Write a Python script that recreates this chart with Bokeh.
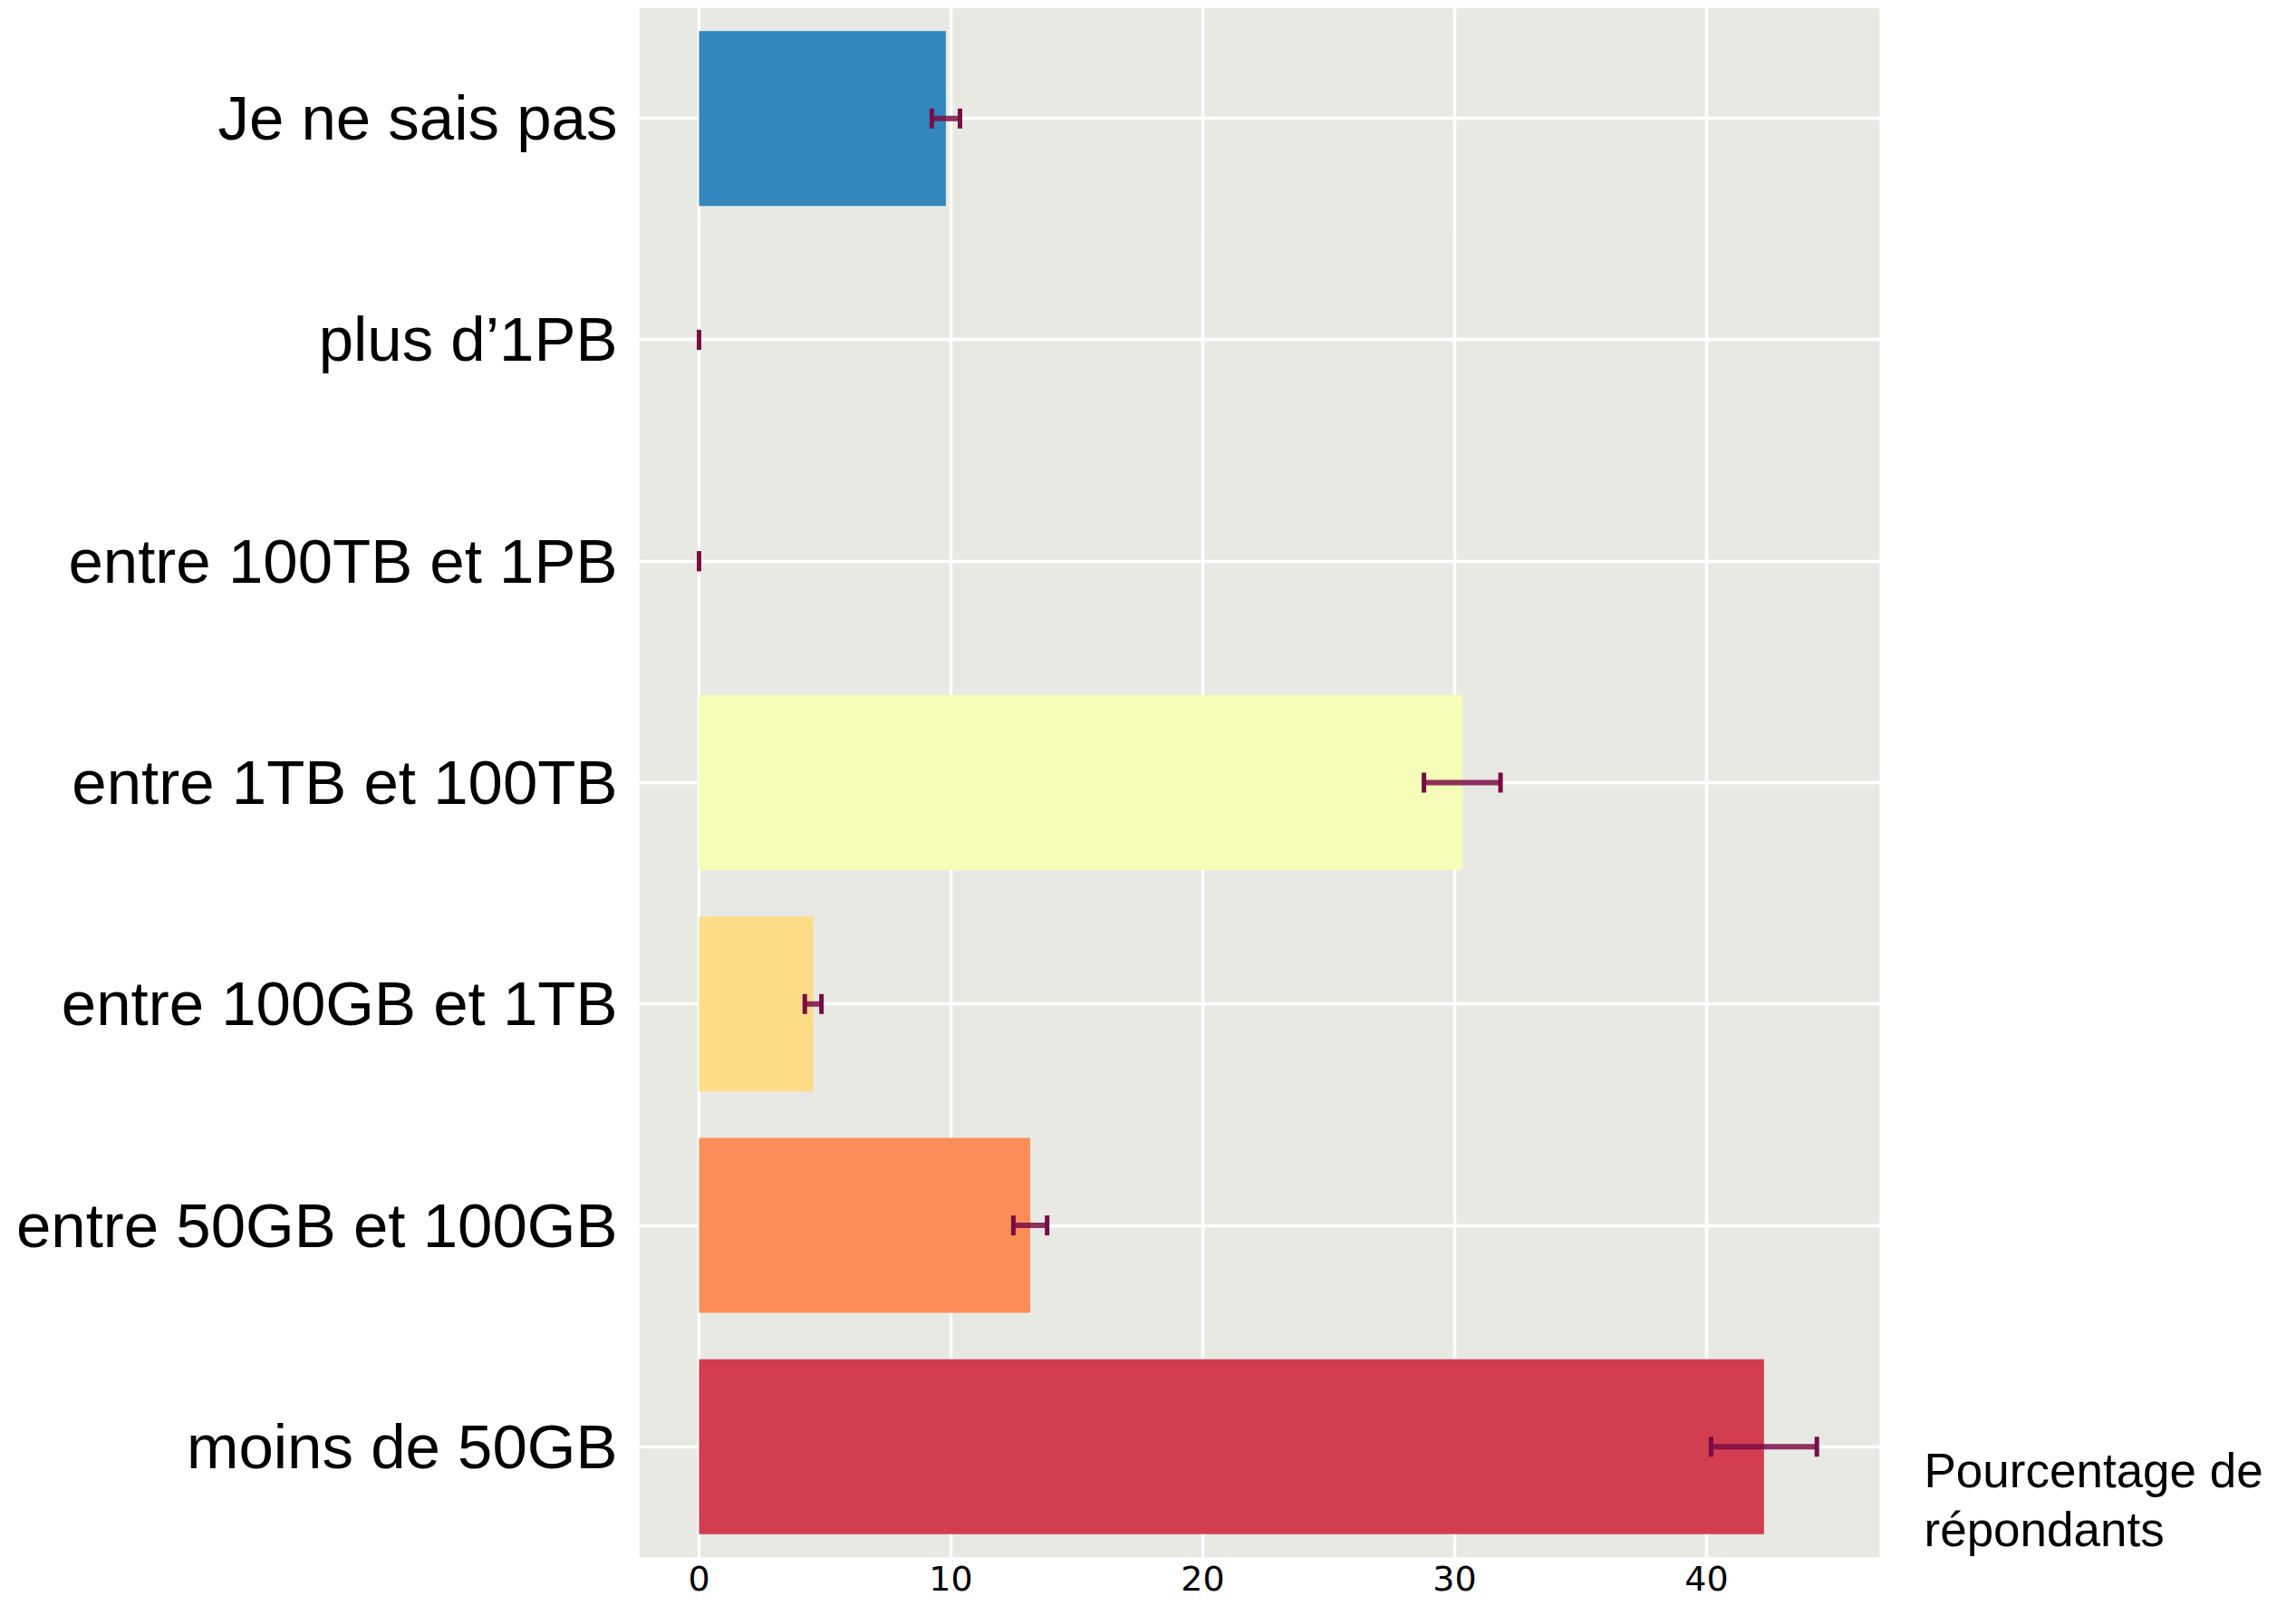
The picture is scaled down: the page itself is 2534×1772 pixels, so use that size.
from bokeh.plotting import figure
from bokeh.models import (ColumnDataSource, FactorRange, Range1d, FixedTicker, Whisker,
                          TeeHead, Label, BoxAnnotation)
from bokeh.embed import file_html
from bokeh.resources import INLINE

# ---- data ----
categories = ["moins de 50GB", "entre 50GB et 100GB", "entre 100GB et 1TB",
              "entre 1TB et 100TB", "entre 100TB et 1PB", "plus d\u20191PB", "Je ne sais pas"]
percent = [42.28, 13.15, 4.53, 30.3, 0.0, 0.0, 9.8]
err = [2.1, 0.67, 0.33, 1.52, 0.0, 0.0, 0.56]
colors = ["#d33d50", "#fb8e58", "#fedc87", "#f7fcb8", "#e6f598", "#99d594", "#3287bd"]
x_ticks = [0, 10, 20, 30, 40]
x_label_lines = ["Pourcentage de", "r\u00e9pondants"]

lower = [v - e for v, e in zip(percent, err)]
upper = [v + e for v, e in zip(percent, err)]
src = ColumnDataSource(dict(cat=categories, val=percent, lower=lower, upper=upper, color=colors))

# panel (grey) extent in axis units; the frame extends to the right to hold the axis title
panel_left, panel_right = -2.374, 46.87

p = figure(width=2534, height=1772, output_backend="svg", toolbar_location=None,
           y_range=FactorRange(factors=categories), x_range=Range1d(panel_left, 63.42),
           min_border_left=705, min_border_right=0, min_border_top=8, min_border_bottom=54)
p.background_fill_color = "white"
p.border_fill_color = "white"
p.outline_line_color = None

p.add_layout(BoxAnnotation(left=panel_left, right=panel_right, fill_color="#e9e9e4",
                           fill_alpha=1.0, line_color=None, level="image"))

p.hbar(y="cat", left=0, right="val", height=0.79, fill_color="color",
       line_color=None, source=src)

ebar_color = "#7a0c45"
wh = Whisker(base="cat", lower="lower", upper="upper", dimension="width", source=src,
             level="overlay", line_color=ebar_color, line_width=6, line_alpha=0.85,
             lower_head=TeeHead(size=22, line_color=ebar_color, line_width=5, line_alpha=1.0),
             upper_head=TeeHead(size=22, line_color=ebar_color, line_width=5, line_alpha=1.0))
p.add_layout(wh)

# grids
p.xgrid.ticker = FixedTicker(ticks=x_ticks)
p.xaxis.ticker = FixedTicker(ticks=x_ticks)
for g in (p.xgrid, p.ygrid):
    g.grid_line_color = "white"
    g.grid_line_width = 3.5
    g.minor_grid_line_color = None

# axes
for ax in (p.xaxis, p.yaxis):
    ax.axis_line_color = None
    ax.major_tick_line_color = None
    ax.minor_tick_line_color = None
    ax.major_tick_out = 0
    ax.major_tick_in = 0
p.yaxis.major_label_text_font = "Liberation Sans"
p.yaxis.major_label_text_font_size = "69px"
p.yaxis.major_label_text_color = "black"
p.yaxis.major_label_standoff = 24
p.xaxis.major_label_text_font = "DejaVu Sans"
p.xaxis.major_label_text_font_size = "38px"
p.xaxis.major_label_text_color = "black"
p.xaxis.major_label_standoff = 9

# x-axis title at the bottom right
for line, yy in zip(x_label_lines, [96, 31]):
    p.add_layout(Label(x=1418, y=yy, x_units="screen", y_units="screen", text=line,
                       text_font="Liberation Sans", text_font_size="53px",
                       text_color="black", text_baseline="alphabetic", text_align="left"))

open("out.html", "w").write(file_html(p, INLINE))
